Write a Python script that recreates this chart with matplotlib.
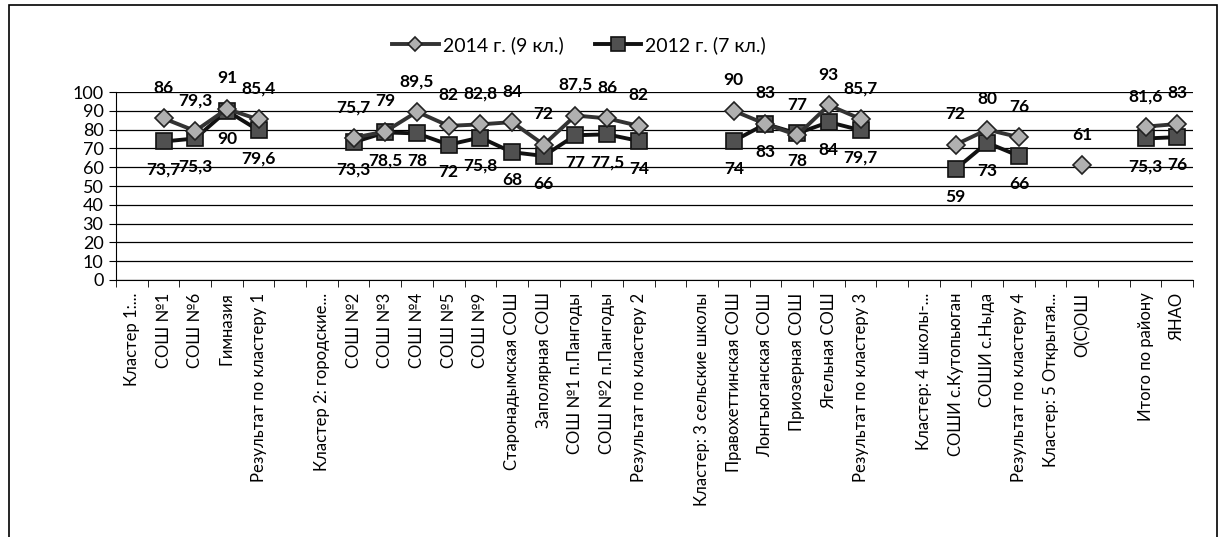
import numpy as np
import matplotlib
matplotlib.use("Agg")
import matplotlib.pyplot as plt
from matplotlib.patches import Rectangle
from matplotlib.ticker import MultipleLocator

plt.rcParams['font.family'] = ['Lato', 'DejaVu Sans']

nan = np.nan

categories = [
    'Кластер 1:...', 'СОШ №1', 'СОШ №6', 'Гимназия', 'Результат по кластеру 1', '',
    'Кластер 2: городские...', 'СОШ №2', 'СОШ №3', 'СОШ №4', 'СОШ №5', 'СОШ №9',
    'Старонадымская СОШ', 'Заполярная СОШ', 'СОШ №1 п.Пангоды', 'СОШ №2 п.Пангоды',
    'Результат по кластеру 2', '',
    'Кластер: 3 сельские школы', 'Правохеттинская СОШ', 'Лонгъюганская СОШ',
    'Приозерная СОШ', 'Ягельная СОШ', 'Результат по кластеру 3', '',
    'Кластер: 4 школы-...', 'СОШИ с.Кутопьюган', 'СОШИ с.Ныда', 'Результат по кластеру 4',
    'Кластер: 5 Открытая...', 'О(С)ОШ', '',
    'Итого по району', 'ЯНАО',
]

y2014 = [nan, 86, 79.3, 91, 85.4, nan,
         nan, 75.7, 79, 89.5, 82, 82.8, 84, 72, 87.5, 86, 82, nan,
         nan, 90, 83, 77, 93, 85.7, nan,
         nan, 72, 80, 76,
         nan, 61, nan,
         81.6, 83]

y2012 = [nan, 73.7, 75.3, 90, 79.6, nan,
         nan, 73.3, 78.5, 78, 72, 75.8, 68, 66, 77, 77.5, 74, nan,
         nan, 74, 83, 78, 84, 79.7, nan,
         nan, 59, 73, 66,
         nan, nan, nan,
         75.3, 76]

labels_legend = ['2014 г. (9 кл.)', '2012 г. (7 кл.)']

x = np.arange(len(categories))

fig = plt.figure(figsize=(12.24, 5.37), dpi=100)
ax = fig.add_axes([0.0948, 0.4786, 0.88, 0.35])

l1, = ax.plot(x, y2014, color='#333333', lw=2.8, marker='D', markersize=9,
              markerfacecolor='#b0b0b0', markeredgecolor='#222222', markeredgewidth=1.2,
              label=labels_legend[0], zorder=3)
l2, = ax.plot(x, y2012, color='#111111', lw=2.8, marker='s', markersize=12,
              markerfacecolor='#505050', markeredgecolor='#111111', markeredgewidth=1.2,
              label=labels_legend[1], zorder=2)


def fmt(v):
    s = ('%g' % v).replace('.', ',')
    return s


for xi, v in zip(x, y2014):
    if not np.isnan(v):
        ax.annotate(fmt(v), (xi, v), xytext=(0, 22), textcoords='offset points',
                    ha='center', va='center', fontsize=12.5, fontweight='bold', zorder=5)
for xi, v in zip(x, y2012):
    if not np.isnan(v):
        ax.annotate(fmt(v), (xi, v), xytext=(0, -20), textcoords='offset points',
                    ha='center', va='center', fontsize=12.5, fontweight='bold', zorder=5)

ax.set_xlim(-0.5, len(categories) - 0.5)
ax.set_ylim(0, 100)
ax.yaxis.set_major_locator(MultipleLocator(10))
ax.grid(axis='y', color='black', lw=0.9)
ax.set_axisbelow(True)

ax.set_xticks(x)
ax.set_xticklabels(categories, rotation=90, fontsize=12)
ax.tick_params(axis='x', which='major', length=0, pad=9)
ax.set_xticks(np.arange(-0.5, len(categories)), minor=True)
ax.tick_params(axis='x', which='minor', length=5, direction='out', color='black')
ax.tick_params(axis='y', labelsize=13, length=5, direction='out', pad=4)

for s in ['top', 'right']:
    ax.spines[s].set_visible(False)
ax.spines['left'].set_color('black')
ax.spines['bottom'].set_color('black')

fig.legend(handles=[l1, l2], loc='center', bbox_to_anchor=(0.473, 0.916), ncol=2,
           frameon=False, fontsize=14, handlelength=2.4, columnspacing=1.6,
           handletextpad=0.2, markerscale=0.8)

fig.patches.append(Rectangle((0.007, -0.01), 0.987, 1.0, transform=fig.transFigure,
                             fill=False, edgecolor='black', lw=1.2))

fig.savefig('out.png', dpi=100)
